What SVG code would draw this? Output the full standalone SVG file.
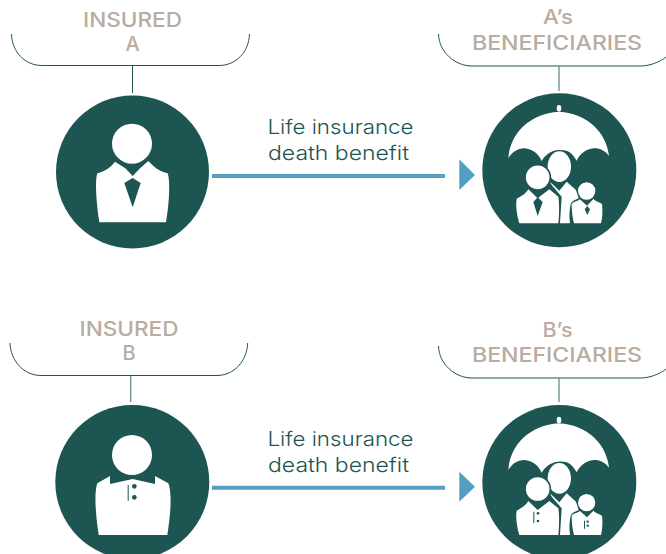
<svg xmlns="http://www.w3.org/2000/svg" xmlns:xlink="http://www.w3.org/1999/xlink" width="666" height="554" viewBox="0 0 666 554">
<style>
.disc{fill:#1c5552}
.w{fill:#fff}
.d{fill:#1c5552}
.ws{fill:#fff;stroke:#1c5552;stroke-width:5}
.br{fill:none;stroke:#1c5552;stroke-width:1}
.st{fill:none;stroke:#6f9593;stroke-width:1.4}
.flow{fill:none;stroke:#549fc1;stroke-width:4}
.tip{fill:#549fc1}
.lab{font-family:"Inter","Liberation Sans",sans-serif;font-size:20px;font-weight:500;fill:#b9aca0;text-anchor:middle}
.cap{font-family:"Inter","Liberation Sans",sans-serif;font-size:20px;font-weight:300;fill:#1c5552;text-anchor:middle}
</style>
<defs>
<g id="family">
<circle class="disc" cx="388" cy="511" r="231"/>
<ellipse class="w" cx="387" cy="325" rx="7" ry="10"/>
<path class="w" d="M235,475C240,400 300,340 387,335C475,340 530,400 537,468C525,450 505,443 490,445C470,447 450,460 440,482C425,455 410,448 385,450C365,450 345,465 335,483C325,460 305,445 280,445C260,447 245,458 235,475Z"/>
<ellipse class="w" cx="388" cy="500" rx="35" ry="46"/>
<path class="w" d="M410,545L438,570L446,595C435,600 426,603 422,612C417,635 418,655 420,670L390,670L395,590L365,555L360,545L388,572Z"/>
<path class="w" d="M295,568C285,585 270,590 260,597C256,620 262,650 268,670L385,670C388,640 388,610 385,590L358,568L323,595Z"/>
<circle class="ws" cx="323" cy="532" r="38"/>
<path class="w" d="M450,598C440,605 430,605 425,612C425,635 428,655 432,670L513,670C518,650 518,630 516,612C505,605 495,603 490,597L471,617Z"/>
<circle class="w" cx="470" cy="573" r="26"/>
</g>
</defs>
<g id="connectors">
<path class="br" d="M11.5,34C12,52 25,65.5 42,65.5H219C236,65.5 249,52 249.5,34"/>
<path class="br" d="M132.5,66V93"/>
<path class="br" d="M438.5,34C439,52 455,66 472,66H640C650,66 660,62 666,57"/>
<path class="st" d="M559,66V91"/>
<path class="flow" d="M212,176H445"/>
<path class="tip" d="M459.3,159.3L475,175L459.3,190Z"/>
<path class="br" d="M10,343C10.500,361 24,375.500 41,375.500H217C234,375.500 247,361 247.700,343"/>
<path class="st" d="M130.700,376V402"/>
<path class="br" d="M438.500,346C439,364 455,378 472,378H640C650,378 660,374 666,369"/>
<path class="st" d="M559,378V402"/>
<path class="flow" d="M212,487.700H445"/>
<path class="tip" d="M459.3,471.700L475,486.700L459.3,501.700Z"/>
</g>
<g id="insured-a">
<text class="lab" x="132.500" y="27" textLength="99" lengthAdjust="spacingAndGlyphs">INSURED</text>
<text class="lab" x="132.500" y="51">A</text>
<circle class="disc" cx="132.500" cy="172" r="76.500"/>
<g transform="scale(.33333)">
<circle class="w" cx="396" cy="431" r="60"/>
<path class="w" d="M345,485C330,505 310,515 292,520C285,540 288,600 298,667L498,667C510,600 510,540 503,520C480,515 460,500 445,483L420,505L398,528L376,505Z"/>
<path class="d" d="M398,534L373,549L398,622L422,549Z"/>
</g>
</g>
<g id="beneficiaries-a">
<text class="lab" x="558" y="24" textLength="30" lengthAdjust="spacingAndGlyphs">A’s</text>
<text class="lab" x="557" y="50" textLength="170" lengthAdjust="spacingAndGlyphs">BENEFICIARIES</text>
<g transform="translate(430,0) scale(.33333)">
<use href="#family" xlink:href="#family"/>
<path class="d" d="M323,592L310,606L323,648L338,606Z"/>
<path class="d" d="M472,618L464,628L472,645L480,628Z"/>
</g>
</g>
<g id="life-a">
<text class="cap" x="340.500" y="134" textLength="146" lengthAdjust="spacingAndGlyphs">Life insurance</text>
<text class="cap" x="338.500" y="160" textLength="141" lengthAdjust="spacingAndGlyphs">death benefit</text>
</g>
<g id="insured-b">
<text class="lab" x="129" y="336" textLength="99" lengthAdjust="spacingAndGlyphs">INSURED</text>
<text class="lab" x="129" y="360">B</text>
<circle class="disc" cx="132.300" cy="482" r="77"/>
<g transform="translate(0,310) scale(.33333)">
<circle class="w" cx="396" cy="435" r="60"/>
<path class="w" d="M330,498L292,520C283,545 285,600 296,675L502,675C514,600 515,545 505,520L465,498V522L398,507L330,522Z"/>
<circle class="d" cx="403" cy="529" r="7"/>
<circle class="d" cx="403" cy="562" r="7"/>
<path class="d" d="M383,525h3v47h-3Z"/>
</g>
</g>
<g id="beneficiaries-b">
<text class="lab" x="557.500" y="337" textLength="30" lengthAdjust="spacingAndGlyphs">B’s</text>
<text class="lab" x="557" y="362" textLength="170" lengthAdjust="spacingAndGlyphs">BENEFICIARIES</text>
<g transform="translate(430,311.700) scale(.33333)">
<use href="#family" xlink:href="#family"/>
<circle class="d" cx="324" cy="605" r="4"/>
<circle class="d" cx="324" cy="628" r="4"/>
<path class="d" d="M310,600h3v34h-3Z"/>
<circle class="d" cx="473" cy="630" r="3.500"/>
<circle class="d" cx="473" cy="642" r="3.500"/>
<path class="d" d="M462,627h3v24h-3Z"/>
</g>
</g>
<g id="life-b">
<text class="cap" x="340.500" y="446" textLength="146" lengthAdjust="spacingAndGlyphs">Life insurance</text>
<text class="cap" x="338.500" y="472" textLength="141" lengthAdjust="spacingAndGlyphs">death benefit</text>
</g>
</svg>
